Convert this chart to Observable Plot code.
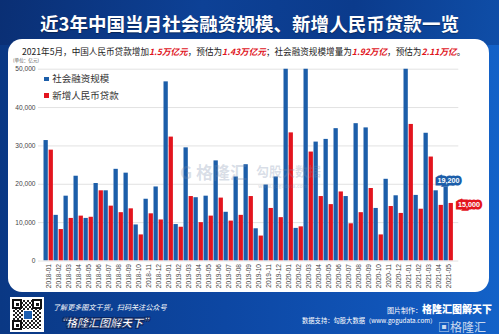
<!DOCTYPE html>
<html><head><meta charset="utf-8">
<script src="https://cdn.jsdelivr.net/npm/d3@7"></script>
<script src="https://cdn.jsdelivr.net/npm/@observablehq/plot@0.6"></script>
<style>
html,body{margin:0;padding:0;}
body{width:499px;height:334px;overflow:hidden;font-family:"Noto Sans CJK SC","Liberation Sans",sans-serif;}
#wrap{position:relative;width:499px;height:334px;overflow:hidden;
 background:linear-gradient(to right,#0a3884 0%,#0d47a3 45%,#1158bd 85%,#1362c8 100%);}
#banner{position:absolute;left:0;top:0;width:499px;height:45px;
 background:linear-gradient(100deg,#0a2f74 0%,#0d4196 40%,#0b3b8c 70%,#0f4ea8 100%);}
#panel{position:absolute;left:8px;top:39px;width:481px;height:253px;background:#fff;border-radius:14px;}
.abs{position:absolute;line-height:1;white-space:nowrap;}
#title{left:0;width:499px;text-align:center;top:13.5px;font-size:18.5px;font-weight:700;color:#fff;letter-spacing:0.05px;text-shadow:0 1px 1px rgba(0,0,0,0.35);}
#sub{left:22px;top:46.5px;font-size:8.6px;color:#222;}
#sub b{color:#e0141c;font-style:italic;font-weight:700;}
#unit{left:13px;top:58.3px;font-size:4.6px;color:#555;}
.lg{font-size:9.5px;color:#333;}
.sq{position:absolute;width:4.6px;height:4.6px;}
#plot{position:absolute;left:0;top:0;}
.wm{color:rgba(120,140,170,0.28);font-weight:700;}
#bl1{left:53px;top:303.5px;font-size:7.1px;color:#fff;font-style:italic;}
#bl2{left:55px;top:316.5px;font-size:11px;font-weight:900;color:#fff;font-style:italic;
 -webkit-text-stroke:0.5px #0a2560;text-shadow:1px 1px 0 #0a2560,-1px 1px 0 #0a2560,1px -1px 0 #0a2560,-1px -1px 0 #0a2560;}
#qr{position:absolute;left:10px;top:297px;width:34px;height:35px;background:#fff;}
#br1{left:387px;top:304px;font-size:7px;color:#fff;}
#br1 span{font-size:10px;font-weight:900;}
#br2{left:302px;top:318px;font-size:6.3px;color:#fff;}
#logo{left:438px;top:320.5px;font-size:12px;color:rgba(235,240,248,0.85);font-weight:400;}
</style></head>
<body>
<div id="wrap">
 <div id="banner"></div>
 <div id="panel"></div>
 <div class="abs" id="title">近3年中国当月社会融资规模、新增人民币贷款一览</div>
 <div class="abs" id="sub">2021年5月，中国人民币贷款增加<b>1.5万亿元</b>，预估为<b>1.43万亿元</b>；社会融资规模增量为<b>1.92万亿</b>，预估为<b>2.11万亿</b>。</div>
 <div class="abs" id="unit">(单位：亿元)</div>
 <div id="chart"></div>
 <div class="sq" style="left:44px;top:76.7px;background:#1c5ea9"></div>
 <div class="abs lg" style="left:52.3px;top:74.2px">社会融资规模</div>
 <div class="sq" style="left:44px;top:93px;background:#e3141e"></div>
 <div class="abs lg" style="left:52.3px;top:90.6px">新增人民币贷款</div>
 <div class="abs wm" style="left:180px;top:163px;font-size:17px;">G 格隆汇</div>
 <div class="abs wm" style="left:256px;top:164px;font-size:13px;">勾股大数据</div>
 <div class="abs wm" style="left:258px;top:182.5px;font-size:5px;">www.gogudata.com</div>
 <div id="qr">
  <div style="position:absolute;left:3px;top:3px;width:28px;height:29px;background:repeating-conic-gradient(#222 0 25%,#fff 0 50%) 0 0/4px 4px;"></div>
  <div style="position:absolute;left:2px;top:2px;width:6px;height:6px;border:2px solid #111;background:#fff;"><div style="margin:1.5px;width:3px;height:3px;background:#111"></div></div>
  <div style="position:absolute;left:22px;top:2px;width:6px;height:6px;border:2px solid #111;background:#fff;"><div style="margin:1.5px;width:3px;height:3px;background:#111"></div></div>
  <div style="position:absolute;left:2px;top:23px;width:6px;height:6px;border:2px solid #111;background:#fff;"><div style="margin:1.5px;width:3px;height:3px;background:#111"></div></div>
  <div style="position:absolute;left:13px;top:13px;width:8px;height:8px;background:#1d5fb0;border:1px solid #fff;"></div>
 </div>
 <div class="abs" id="bl1">了解更多图文干货，扫码关注公众号</div>
 <div class="abs" id="bl2">“格隆汇图解天下”</div>
 <div class="abs" id="br1">图片制作：<span>格隆汇图解天下</span></div>
 <div class="abs" id="br2">数据支持：勾股大数据（www.gogudata.com）</div>
 <div class="abs" id="logo">▣格隆汇</div>
</div>
<script>
const months = ["2018-01","2018-02","2018-03","2018-04","2018-05","2018-06","2018-07","2018-08","2018-09","2018-10","2018-11","2018-12",
 "2019-01","2019-02","2019-03","2019-04","2019-05","2019-06","2019-07","2019-08","2019-09","2019-10","2019-11","2019-12",
 "2020-01","2020-02","2020-03","2020-04","2020-05","2020-06","2020-07","2020-08","2020-09","2020-10","2020-11","2020-12",
 "2021-01","2021-02","2021-03","2021-04","2021-05"];
// 社会融资规模 (亿元)
const tsf = [31400,11900,16900,22100,11100,20200,18300,23900,22900,9400,16100,19300,
 46700,9500,29500,16500,16900,26100,12700,21900,25100,8400,19800,21900,
 50700,8500,51800,31000,31700,34500,16800,35800,34700,13700,21300,17000,
 51700,17100,33300,18300,19200];
// 新增人民币贷款 (亿元)
const loans = [28900,8200,11100,11700,11400,18300,14300,12600,13600,6800,12300,10700,
 32300,8800,16800,10000,11700,16400,10400,11900,16800,6500,13700,11300,
 33400,8900,28400,16800,14700,18000,9700,12600,18900,6800,14200,12400,
 35600,13500,27100,14500,15000];
const yTicks = [0,10000,20000,30000,40000,50000];

const BLUE = "#1c5ea9", RED = "#e3141e";
const data = months.map((m,i)=>({month:m, tsf:tsf[i], loans:loans[i]}));
const last = [data[data.length-1]];
const fmt = d3.format(",");

const chart = Plot.plot({
  width: 499, height: 334,
  marginLeft: 38, marginRight: 40.7, marginTop: 68.7, marginBottom: 73.5,
  style: {background: "transparent", fontSize: "6.6px", fontFamily: "'Liberation Sans','Noto Sans CJK SC',sans-serif", color: "#444"},
  x: {type: "band", domain: months, padding: 0, label: null, tickSize: 0, tickPadding: 3, tickRotate: -90},
  y: {domain: [0, 50000], ticks: yTicks, tickFormat: fmt, label: null, tickSize: 0, tickPadding: 3},
  marks: [
    Plot.ruleY(yTicks, {stroke: "#e2e2e2", strokeWidth: 1}),
    Plot.barY(data, {x: "month", y: "tsf", fill: BLUE, insetLeft: 0.5, insetRight: 5.2, clip: true}),
    Plot.barY(data, {x: "month", y: "loans", fill: RED, insetLeft: 5.6, insetRight: 0.1, clip: true}),
    Plot.text(last, {x: "month", y: "tsf", text: d => fmt(d.tsf), dy: -6.5, fill: "white", stroke: BLUE, strokeWidth: 5, strokeLinejoin: "miter", paintOrder: "stroke", fontSize: 7.2, fontWeight: "bold"}),
    Plot.text(last, {x: "month", y: "loans", text: d => fmt(d.loans), dx: 9.4, dy: 1, textAnchor: "start", fill: "white", stroke: RED, strokeWidth: 5, strokeLinejoin: "miter", paintOrder: "stroke", fontSize: 7.2, fontWeight: "bold"})
  ]
});
chart.id = "plot";
document.getElementById("chart").appendChild(chart);
</script>
</body></html>
